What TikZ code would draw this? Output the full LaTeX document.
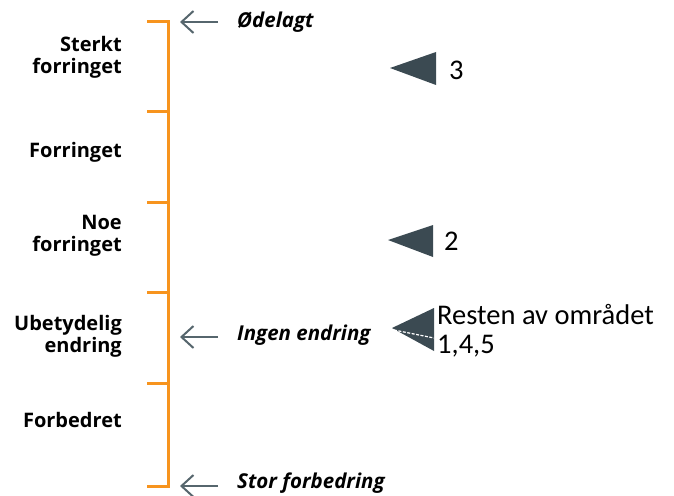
\documentclass[tikz,border=0pt]{standalone}
\usepackage{fontspec}
\setmainfont{Open Sans}
\newfontfamily\calfont{Carlito}
\usetikzlibrary{arrows.meta, positioning}
\usepackage{xcolor}
\definecolor{skala}{HTML}{F7941E}
\definecolor{pilgraa}{HTML}{56666D}
\definecolor{trekant}{HTML}{3B4A52}

\begin{document}
\begin{tikzpicture}[x=1pt, y=-1pt, >={Straight Barb[length=12pt, width=22pt, line width=2pt]},
  nivaa/.style={anchor=east, align=right, font=\fontsize{20}{22}\selectfont\bfseries, inner sep=0pt},
  merke/.style={anchor=west, font=\fontsize{20.5}{22}\selectfont\bfseries\itshape, inner sep=0pt},
  pil/.style={->, draw=pilgraa, line width=2pt, shorten <=19pt, shorten >=12pt},
  omr/.style={anchor=base west, font=\calfont\fontsize{28.5}{29}\selectfont, inner sep=0pt},
  tri/.style={fill=trekant}]
  \useasboundingbox (0,0) rectangle (674,495);
  % skala
  \coordinate (s0) at (168,22);
  \coordinate (s1) at (168,111);
  \coordinate (s2) at (168,202);
  \coordinate (s3) at (168,292);
  \coordinate (s4) at (168,383);
  \coordinate (s5) at (168,486);
  \coordinate (ingen) at (168,337);
  \draw[skala, line width=3pt] ([xshift=-21pt]s0) -- (s0) -- (s5) -- ([xshift=-21pt]s5);
  \foreach \s in {s1,s2,s3,s4}
    \draw[skala, line width=3pt] ([xshift=-21pt]\s) -- (\s);
  % nivaaer
  \node[nivaa] (sterkt) at (122,57) {Sterkt\\forringet};
  \node[nivaa] (forr) at (122,152) {Forringet};
  \node[nivaa] (noe) at (122,236) {Noe\\forringet};
  \node[nivaa] (ubet) at (122,336) {Ubetydelig\\endring};
  \node[nivaa] (forb) at (122,420) {Forbedret};
  % merker
  \node[merke] (odel) at (237,22) {Ødelagt};
  \node[merke] (ingend) at (237,335) {Ingen endring};
  \node[merke] (storf) at (237,483) {Stor forbedring};
  \draw[pil] (odel.west |- s0) -- (s0);
  \draw[pil] (ingend.west |- ingen) -- (ingen);
  \draw[pil] (storf.west |- s5) -- (s5);
  % omraader
  \fill[tri] (390,68) -- (436,52) -- (436,85) -- cycle;
  \node[omr] (o3) at (449,79) {3};
  \fill[tri] (388,240) -- (433,225) -- (433,257) -- cycle;
  \node[omr] (o2) at (444,250) {2};
  \fill[tri] (392,328) -- (434,308) -- (434,351) -- cycle;
  \draw[white, line width=1.2pt, dashed, dash pattern=on 3pt off 1.5pt] (394,330) -- (434,338);
  \node[omr] (resten) at (437,324) {Resten av området};
  \node[omr] (nr145) at (437,353) {1,4,5};
\end{tikzpicture}
\end{document}
